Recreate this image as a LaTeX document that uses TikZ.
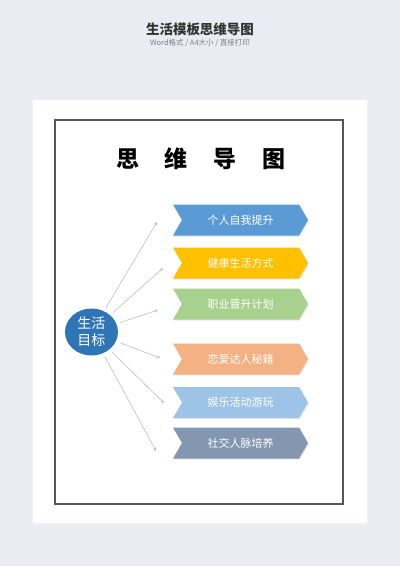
\documentclass[tikz,border=0pt]{standalone}
\usepackage{fontspec}
\setmainfont{Noto Sans CJK SC}
\usepackage{tikz}
\usetikzlibrary{arrows}
\usetikzlibrary{shapes.symbols}
\usetikzlibrary{shapes.geometric}
\usetikzlibrary{shadows}
\definecolor{pagebg}{RGB}{233, 236, 242}
\definecolor{frameline}{RGB}{85, 85, 85}
\definecolor{goalblue}{RGB}{46, 117, 182}
\definecolor{stepblue}{RGB}{91, 155, 213}
\definecolor{stepgold}{RGB}{255, 192, 0}
\definecolor{stepgreen}{RGB}{169, 209, 142}
\definecolor{steporange}{RGB}{244, 177, 131}
\definecolor{steplight}{RGB}{157, 195, 230}
\definecolor{stepslate}{RGB}{132, 151, 176}
\definecolor{linkgray}{RGB}{190, 190, 190}

\begin{document}
\begin{tikzpicture}[x=1pt, y=-1pt,
        chevron/.style={signal, signal from=west, signal to=east, signal pointer angle=120,
                        minimum width=135pt, minimum height=31pt, inner sep=0pt, outer sep=0pt,
                        text=white, font=\fontsize{11}{13}\selectfont,
                        drop shadow={opacity=0.18, shadow xshift=1pt, shadow yshift=-1pt}},
        link/.style={linkgray, line width=0.6pt, -stealth, shorten <=4pt}]
            % Background & page
            \fill[pagebg]                                                     (0, 0) rectangle (400, 566);
            \useasboundingbox                                                 (0, 0) rectangle (400, 566);
            \fill[black!6]                                                    (32, 99) rectangle (368, 525);
            \fill[white]                                                      (33, 100) rectangle (367, 523);
            \draw[frameline, line width=1.2pt]                                (55, 120) rectangle (343, 504);
            % Headings
            \node[text=black!80, font=\fontsize{13.5}{15}\selectfont\bfseries] (head) at (200, 29) {生活模板思维导图};
            \node[text=black!50, font=\fontsize{7.5}{9}\selectfont]            (sub)  at (200, 43) {Word格式 / A4大小 / 直接打印};
            \node[font=\fontsize{23}{26}\selectfont\bfseries]                  (title) at (201, 159) {思\hspace{26pt}维\hspace{26pt}导\hspace{26pt}图};
            % Centre
            \node[ellipse, fill=goalblue, minimum width=53pt, minimum height=47pt, inner sep=0pt,
                  text=white, align=center, font=\fontsize{14}{17}\selectfont] (goal) at (91.5, 332) {生活\\目标};
            % Branches
            \node[chevron, fill=stepblue]   (b1) at (240.5, 220)   {个人自我提升};
            \node[chevron, fill=stepgold]   (b2) at (240.5, 263)   {健康生活方式};
            \node[chevron, fill=stepgreen]  (b3) at (240.5, 304)   {职业晋升计划};
            \node[chevron, fill=steporange] (b4) at (240.5, 359)   {恋爱达人秘籍};
            \node[chevron, fill=steplight]  (b5) at (240.5, 402.5) {娱乐活动游玩};
            \node[chevron, fill=stepslate]  (b6) at (240.5, 443)   {社交人脉培养};
            % Arrow tips
            \coordinate (t1) at (157, 222);
            \coordinate (t2) at (163, 268);
            \coordinate (t3) at (158, 310);
            \coordinate (t4) at (160, 358);
            \coordinate (t5) at (164, 403);
            \coordinate (t6) at (156, 451);
            \foreach \i in {1,...,6}
                \draw[link] (goal) -- (t\i);
        \end{tikzpicture}
\end{document}
